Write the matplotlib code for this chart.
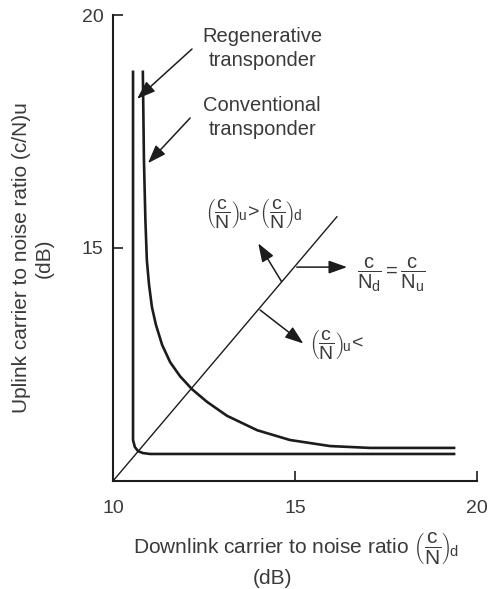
import numpy as np
from matplotlib import pyplot as plt

plt.rcParams['font.family'] = ['Liberation Sans', 'DejaVu Sans']
plt.rcParams['mathtext.fontset'] = 'custom'
plt.rcParams['mathtext.rm'] = 'Liberation Sans'
plt.rcParams['mathtext.it'] = 'Liberation Sans'
plt.rcParams['mathtext.bf'] = 'Liberation Sans:bold'

txt = "#3a3a3a"
ink = "#1c1c1c"

# curves (dB)
regen_x = [10.55, 10.55, 10.60, 10.69, 10.82, 11.02, 19.37]
regen_y = [18.78, 10.88, 10.73, 10.64, 10.60, 10.58, 10.58]

conv_x = [10.82, 10.85, 10.89, 10.93, 10.99, 11.07, 11.18, 11.35, 11.57, 11.84, 12.17,
          12.58, 13.13, 13.96, 14.86, 15.96, 17.06, 19.37]
conv_y = [18.78, 16.89, 15.60, 14.74, 14.21, 13.73, 13.35, 12.92, 12.55, 12.25, 11.97,
          11.70, 11.40, 11.09, 10.88, 10.75, 10.71, 10.71]

diag_x = [10.0, 16.15]
diag_y = [10.0, 15.67]

xticks = [10, 15, 20]
yticks = [15, 20]

fig = plt.figure(figsize=(4.88, 5.89), dpi=100)
ax = fig.add_axes([113/488, 108/589, 364/488, 466/589])

ax.plot(regen_x, regen_y, color=ink, lw=1.9, solid_joinstyle='round')
ax.plot(conv_x, conv_y, color=ink, lw=1.9, solid_joinstyle='round')
ax.plot(diag_x, diag_y, color=ink, lw=1.0)

ap = dict(arrowstyle='-|>,head_length=0.7,head_width=0.25', color=ink, lw=1.1,
          mutation_scale=16, shrinkA=0, shrinkB=0)

ax.annotate("", xy=(10.66, 18.20), xytext=(12.17, 19.27), arrowprops=ap)
ax.text(14.1, 19.28, "Regenerative\ntransponder", fontsize=14.5, color=txt,
        ha='center', va='center', linespacing=1.35)

ax.annotate("", xy=(10.96, 16.82), xytext=(12.12, 17.79), arrowprops=ap)
ax.text(14.1, 17.80, "Conventional\ntransponder", fontsize=14.5, color=txt,
        ha='center', va='center', linespacing=1.35)

# arrows off the c/N_u = c/N_d line
ax.annotate("", xy=(16.43, 14.59), xytext=(15.05, 14.59), arrowprops=ap)
ax.annotate("", xy=(13.99, 15.10), xytext=(14.63, 14.28), arrowprops=ap)
ax.annotate("", xy=(15.23, 12.95), xytext=(14.04, 13.67), arrowprops=ap)

ax.text(13.85, 15.71, r'$\left(\dfrac{c}{N}\right)_{\!u}\! > \!\left(\dfrac{c}{N}\right)_{\!d}$',
        fontsize=14, color=txt, ha='center', va='center')
ax.text(17.66, 14.42, r'$\dfrac{c}{N_d} = \dfrac{c}{N_u}$',
        fontsize=14.5, color=txt, ha='center', va='center')
ax.text(16.15, 12.90, r'$\left(\dfrac{c}{N}\right)_{\!u}\!<$',
        fontsize=14, color=txt, ha='center', va='center')

ax.set_xlim(10, 20)
ax.set_ylim(10, 20)
ax.set_xticks(xticks)
ax.set_yticks(yticks)
ax.tick_params(axis='both', direction='in', length=7, width=1.2, colors=ink,
               labelcolor=txt, labelsize=14)
ax.tick_params(axis='x', pad=14)
ax.tick_params(axis='y', pad=7)
for s in ['top', 'right']:
    ax.spines[s].set_visible(False)
for s in ['left', 'bottom']:
    ax.spines[s].set_linewidth(1.5)
    ax.spines[s].set_color(ink)

fig.text(33/488, 1 - 258/589, "Uplink carrier to noise ratio (c/N)u\n(dB)", rotation=90,
         fontsize=15, color=txt, ha='center', va='center', multialignment='center',
         linespacing=1.25)
fig.text(296/488, 1 - 548/589,
         r'Downlink carrier to noise ratio $\left(\dfrac{c}{N}\right)_{\!d}$',
         fontsize=15, color=txt, ha='center', va='center')
fig.text(273/488, 1 - 578/589, "(dB)", fontsize=15, color=txt, ha='center', va='center')

fig.savefig("out.png", dpi=100)
